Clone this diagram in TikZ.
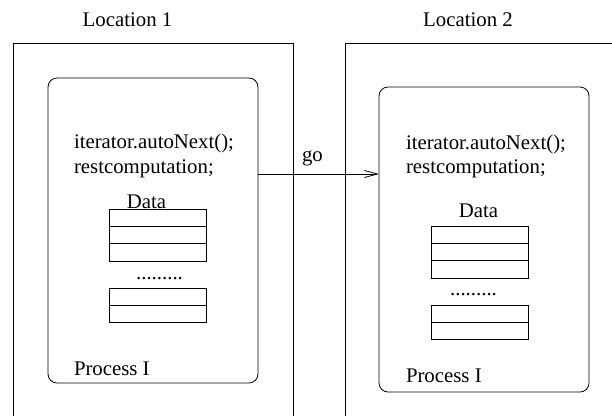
\documentclass[tikz,border=0pt]{standalone}
\usepackage{fontspec}
\setmainfont{LiberationSerif}[Extension=.ttf,UprightFont=*-Regular]
\usetikzlibrary{arrows.meta}
\begin{document}
\begin{tikzpicture}[x=1pt,y=-1pt,
  every node/.style={inner sep=0pt,outer sep=0pt},
  lbl/.style={anchor=base west,font=\fontsize{20.8}{25}\selectfont},
  ctr/.style={anchor=base,font=\fontsize{20.8}{25}\selectfont},
  proc/.style={draw,line width=0.8pt,rounded corners=9pt,minimum width=210pt,minimum height=305pt},
  row/.style={draw,line width=0.8pt,minimum width=97pt,minimum height=17.3pt},
  loc/.style={line width=0.8pt},
  go/.style={line width=0.8pt,-{Straight Barb[length=13pt,width=7pt,line width=0.8pt]}}
]
\useasboundingbox (0,0) rectangle (612,416);
% outer location boxes
\draw[loc] (13,416) -- (13,43) -- (293,43) -- (293,416);
\draw[loc] (345,416) -- (345,43) -- (612,43);
\node[ctr] (loc1) at (127.5,26) {Location 1};
\node[ctr] (loc2) at (468,26) {Location 2};
% processes
\node[proc] (p1) at (153,230.5) {};
\node[proc] (p2) at (484,239.5) {};
% left process content
\node[lbl] (it1) at (74,148) {iterator.autoNext();};
\node[lbl] (rc1) at (74,173) {restcomputation;};
\node[ctr] (d1) at (146.5,208) {Data};
\node[row] (a1) at (157.5,217.65) {};
\node[row] (a2) at (157.5,234.95) {};
\node[row] (a3) at (157.5,252.25) {};
\node[ctr] (dots1) at (159.5,279.5) {.........};
\node[row] (b1) at (157.5,296.65) {};
\node[row] (b2) at (157.5,313.95) {};
\node[lbl] (pr1) at (74,375) {Process I};
% right process content
\node[lbl] (it2) at (406,149) {iterator.autoNext();};
\node[lbl] (rc2) at (406,173) {restcomputation;};
\node[ctr] (d2) at (478.5,217) {Data};
\node[row] (c1) at (480,234.65) {};
\node[row] (c2) at (480,251.95) {};
\node[row] (c3) at (480,269.25) {};
\node[ctr] (dots2) at (473.5,295.5) {.........};
\node[row] (e1) at (480,313.65) {};
\node[row] (e2) at (480,330.95) {};
\node[lbl] (pr2) at (406,382) {Process I};
% migration arrow
\coordinate (ylev) at (0,174);
\draw[go] (p1.east |- ylev) -- node[pos=0.45,above=8pt,font=\fontsize{20.8}{25}\selectfont] (golbl) {go} (p2.west |- ylev);
\end{tikzpicture}
\end{document}
